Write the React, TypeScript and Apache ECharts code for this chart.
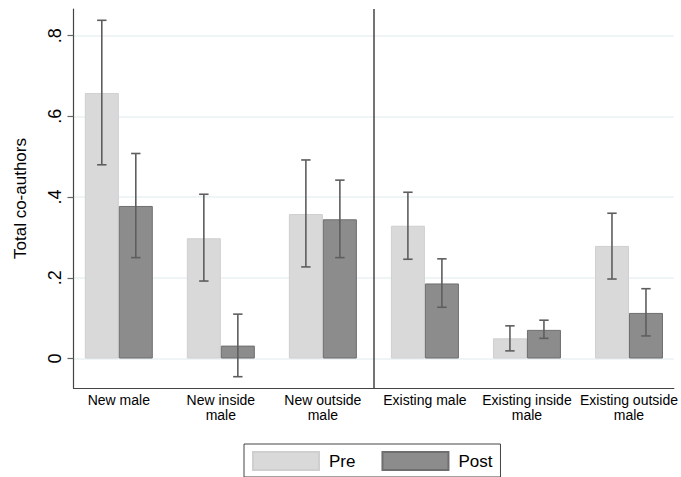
import React, { useEffect, useRef } from "react";
import * as echarts from "echarts";

const categories = [
  "New male",
  "New inside\nmale",
  "New outside\nmale",
  "Existing male",
  "Existing inside\nmale",
  "Existing outside\nmale",
];
const catPos = [0, 1, 2, 3, 4, 5];
const preValues = [0.658, 0.298, 0.358, 0.329, 0.05, 0.279];
const postValues = [0.378, 0.032, 0.345, 0.186, 0.071, 0.113];
const preLow = [0.48, 0.192, 0.227, 0.246, 0.019, 0.197];
const preHigh = [0.838, 0.407, 0.492, 0.412, 0.081, 0.36];
const postLow = [0.25, -0.045, 0.25, 0.127, 0.05, 0.056];
const postHigh = [0.508, 0.11, 0.442, 0.247, 0.095, 0.173];
const yTicks = [0, 0.2, 0.4, 0.6, 0.8];
const yTickLabels = ["0", ".2", ".4", ".6", ".8"];
const separatorAt = 2.5;

const FONT = "'Liberation Sans', Arial, sans-serif";
const BAR_W = 34;

function errorSeries(name: string, lows: number[], highs: number[], offset: number) {
  return {
    type: "custom",
    name: name + " CI",
    z: 5,
    silent: true,
    data: catPos.map((k, i) => [k, lows[i], highs[i]]),
    encode: { x: 0, y: [1, 2] },
    renderItem: (params: any, api: any) => {
      const k = api.value(0);
      const lo = api.value(1);
      const hi = api.value(2);
      const pLo = api.coord([k, lo]);
      const pHi = api.coord([k, hi]);
      const x = pLo[0] + offset;
      const cap = 4.7;
      const style = { stroke: "#5e5e5e", lineWidth: 1.6 };
      return {
        type: "group",
        children: [
          { type: "line", shape: { x1: x, y1: pLo[1], x2: x, y2: pHi[1] }, style },
          { type: "line", shape: { x1: x - cap, y1: pHi[1], x2: x + cap, y2: pHi[1] }, style },
          { type: "line", shape: { x1: x - cap, y1: pLo[1], x2: x + cap, y2: pLo[1] }, style },
        ],
      };
    },
  };
}

export default function App() {
  const ref = useRef<HTMLDivElement>(null);
  useEffect(() => {
    if (!ref.current) return;
    const chart = echarts.init(ref.current, undefined, { renderer: "svg" });
    chart.setOption({
      animation: false,
      backgroundColor: "#ffffff",
      textStyle: { fontFamily: FONT },
      grid: { left: 73.5, right: 5, top: 9, bottom: 89, containLabel: false },
      legend: {
        left: 244,
        top: 444,
        width: 258,
        padding: [7, 8, 6, 8],
        borderColor: "#444",
        borderWidth: 1,
        borderRadius: 0,
        itemWidth: 66,
        itemHeight: 18,
        itemGap: 26,
        icon: "rect",
        data: ["Pre", "Post"],
        textStyle: { fontFamily: FONT, fontSize: 17, color: "#000", padding: [0, 0, 0, 5] },
      },
      xAxis: {
        type: "value",
        min: -0.444,
        max: 5.44,
        axisLine: { show: true, onZero: false, lineStyle: { color: "#444", width: 1.2 } },
        axisTick: { show: false },
        splitLine: { show: false },
        axisLabel: {
          customValues: catPos,
          formatter: (v: number) => categories[Math.round(v)] ?? "",
          fontFamily: FONT,
          fontSize: 14,
          lineHeight: 15,
          color: "#000",
          margin: 4,
          align: "center",
        },
      },
      yAxis: {
        type: "value",
        min: -0.073,
        max: 0.866,
        name: "Total co-authors",
        nameLocation: "middle",
        nameGap: 45,
        nameRotate: 90,
        nameTextStyle: { fontFamily: FONT, fontSize: 17, color: "#000" },
        axisLine: { show: true, onZero: false, lineStyle: { color: "#444", width: 1.2 } },
        axisTick: {
          show: true,
          customValues: yTicks,
          length: 6,
          lineStyle: { color: "#666", width: 1.2 },
        },
        axisLabel: {
          customValues: yTicks,
          rotate: 90,
          margin: 10,
          fontFamily: FONT,
          fontSize: 18,
          color: "#000",
          formatter: (v: number) => {
            const idx = yTicks.findIndex((t) => Math.abs(t - v) < 1e-6);
            return idx >= 0 ? yTickLabels[idx] : "";
          },
        },
        splitLine: { show: true, lineStyle: { color: "#eaf2f3", width: 1.5 } },
      },
      series: [
        {
          type: "bar",
          name: "Pre",
          barWidth: BAR_W,
          barGap: "0%",
          z: 2,
          itemStyle: { color: "#d9d9d9", borderColor: "#cfcfcf", borderWidth: 1 },
          data: catPos.map((k, i) => [k, preValues[i]]),
        },
        {
          type: "bar",
          name: "Post",
          barWidth: BAR_W,
          barGap: "0%",
          z: 2,
          itemStyle: { color: "#8c8c8c", borderColor: "#6e6e6e", borderWidth: 1 },
          data: catPos.map((k, i) => [k, postValues[i]]),
        },
        errorSeries("Pre", preLow, preHigh, -BAR_W / 2),
        errorSeries("Post", postLow, postHigh, BAR_W / 2),
        {
          type: "line",
          name: "separator",
          data: [],
          z: 3,
          silent: true,
          markLine: {
            silent: true,
            symbol: ["none", "none"],
            label: { show: false },
            lineStyle: { color: "#444", width: 1.5, type: "solid" },
            data: [{ xAxis: separatorAt }],
          },
        },
      ],
    });
    return () => chart.dispose();
  }, []);
  return (
    <div
      ref={ref}
      style={{ position: "fixed", left: 0, top: 0, width: 681, height: 477, background: "#fff" }}
    />
  );
}
